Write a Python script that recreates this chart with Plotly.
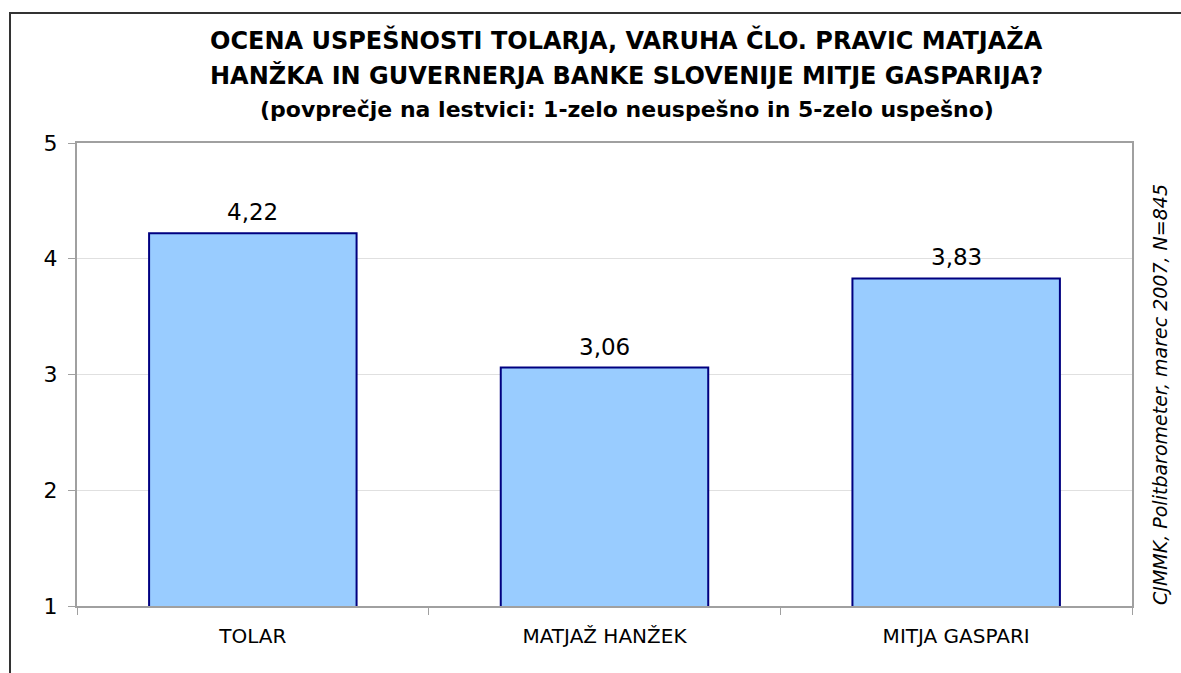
import plotly.graph_objects as go

# Survey results: mean rating on a 1-5 scale
categories = ["TOLAR", "MATJAŽ HANŽEK", "MITJA GASPARI"]
values = [4.22, 3.06, 3.83]
y_ticks = [1, 2, 3, 4, 5]

title_lines = [
    "OCENA USPEŠNOSTI TOLARJA, VARUHA ČLO. PRAVIC MATJAŽA",
    "HANŽKA IN GUVERNERJA BANKE SLOVENIJE MITJE GASPARIJA?",
    "(povprečje na lestvici: 1-zelo neuspešno in 5-zelo uspešno)",
]
source_note = "CJMMK, Politbarometer, marec 2007, N=845"

FONT = "DejaVu Sans, Liberation Sans, Arial, sans-serif"
AXIS_GREY = "#A0A0A0"

fig = go.Figure()
fig.add_trace(go.Bar(
    x=categories,
    y=values,
    marker=dict(color="#99CCFF", line=dict(color="#000080", width=2)),
    hoverinfo="skip",
))

# value labels above bars, decimal comma
for c, v in zip(categories, values):
    fig.add_annotation(
        x=c, y=v, xref="x", yref="y",
        text=f"{v:.2f}".replace(".", ","),
        showarrow=False, yanchor="bottom", yshift=6,
        font=dict(family=FONT, size=23, color="#000000"),
    )

# three-line title
title_y = [1.2225, 1.1460, 1.0713]
title_size = [24, 24, 22]
for line, ty, ts in zip(title_lines, title_y, title_size):
    fig.add_annotation(
        x=0.5213, y=ty, xref="paper", yref="paper",
        text=f"<b>{line}</b>", showarrow=False,
        xanchor="center", yanchor="middle",
        font=dict(family=FONT, size=ts, color="#000000"),
    )

# rotated source note at the right
fig.add_annotation(
    x=1.0265, y=0.458, xref="paper", yref="paper",
    text=f"<i>{source_note}</i>", showarrow=False, textangle=-90,
    xanchor="center", yanchor="middle",
    font=dict(family=FONT, size=19, color="#000000"),
)

# outer frame of the chart
fig.add_shape(
    type="rect", xref="paper", yref="paper",
    x0=-0.0635, x1=1.2, y0=-0.4, y1=1.2808,
    line=dict(color="#333333", width=2), fillcolor="rgba(0,0,0,0)",
    layer="below",
)

fig.update_layout(
    width=1181, height=673,
    margin=dict(l=77, r=49, t=143, b=67),
    paper_bgcolor="#FFFFFF", plot_bgcolor="#FFFFFF",
    bargap=0.41, showlegend=False,
    font=dict(family=FONT, color="#000000"),
)
fig.update_xaxes(
    type="category",
    showline=True, mirror=True, linecolor=AXIS_GREY, linewidth=2,
    ticks="outside", tickson="boundaries", ticklen=7, tickwidth=1,
    tickcolor=AXIS_GREY, showgrid=False,
    tickfont=dict(family=FONT, size=20, color="#000000"),
    ticklabelstandoff=11,
)
fig.update_yaxes(
    range=[1, 5], tickvals=y_ticks,
    showline=True, mirror=True, linecolor=AXIS_GREY, linewidth=2,
    ticks="outside", ticklen=7, tickwidth=1, tickcolor=AXIS_GREY,
    showgrid=True, gridcolor="#E0E0E0", gridwidth=1, zeroline=False,
    tickfont=dict(family=FONT, size=22, color="#000000"),
    ticklabelstandoff=6,
)

fig.write_html("out.html")
